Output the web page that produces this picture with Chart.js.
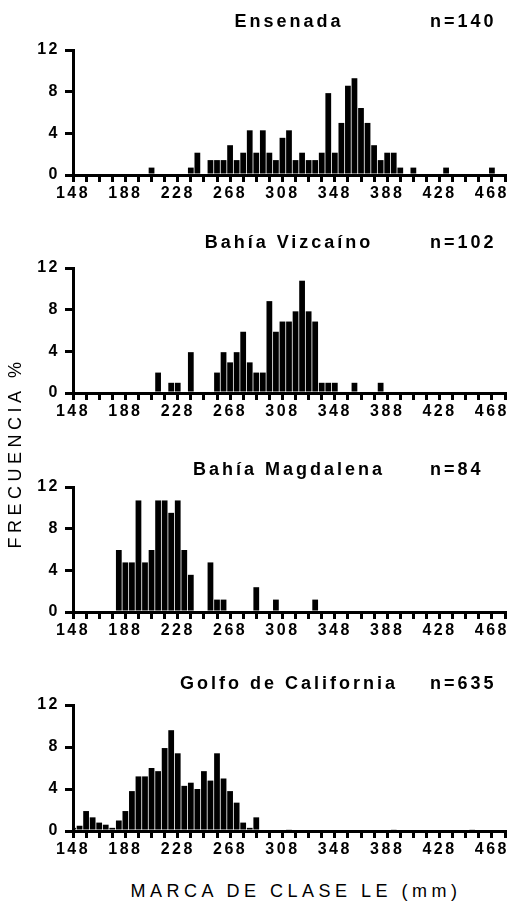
<!DOCTYPE html>
<html>
<head>
<meta charset="utf-8">
<script src="https://cdn.jsdelivr.net/npm/chart.js@4.4.0/dist/chart.umd.min.js"></script>
<style>
  body { margin: 0; background: #fff; }
  #wrap { position: relative; width: 509px; height: 905px; overflow: hidden; font-family: 'Liberation Sans', Arial, sans-serif; }
  canvas { position: absolute; left: 0; }
  .axtitle { position: absolute; color: #000; font-size: 18px; letter-spacing: 4.5px; white-space: nowrap; text-align: center; }
  #ytitle { left: -135px; top: 442px; width: 300px; height: 22px; line-height: 22px; transform: rotate(-90deg); }
  #xtitle { left: 96px; top: 880px; width: 400px; height: 22px; line-height: 22px; }
</style>
</head>
<body>
<div id="wrap">
  <canvas id="c0"></canvas>
  <canvas id="c1"></canvas>
  <canvas id="c2"></canvas>
  <canvas id="c3"></canvas>
  <div class="axtitle" id="ytitle">FRECUENCIA %</div>
  <div class="axtitle" id="xtitle">MARCA DE CLASE LE (mm)</div>
</div>
<script>
// class marks, mm (5 mm classes)
var classMarks = [148, 153, 158, 163, 168, 173, 178, 183, 188, 193, 198, 203, 208, 213, 218, 223, 228, 233, 238, 243,
                  248, 253, 258, 263, 268, 273, 278, 283, 288, 293, 298, 303, 308, 313, 318, 323, 328, 333, 338, 343,
                  348, 353, 358, 363, 368, 373, 378, 383, 388, 393, 398, 403, 408, 413, 418, 423, 428, 433, 438, 443,
                  448, 453, 458, 463, 468];

var xTickValues = [148, 158, 168, 178, 188, 198, 208, 218, 228, 238, 248, 258, 268, 278, 288, 298, 308, 318, 328, 338,
                   348, 358, 368, 378, 388, 398, 408, 418, 428, 438, 448, 458, 468, 478];
var xTickLabels = [148, 188, 228, 268, 308, 348, 388, 428, 468];
var yTickValues = [0, 2, 4, 6, 8, 10, 12];
var yTickLabels = [0, 4, 8, 12];

var siteNames = ['Ensenada', 'Bahía Vizcaíno', 'Bahía Magdalena', 'Golfo de California'];
var sampleSizes = [140, 102, 84, 635];

// frequency %, one value per class mark
var ensenada = [0, 0, 0, 0, 0, 0, 0, 0, 0, 0, 0, 0, 0.71, 0, 0, 0, 0, 0, 0.71, 2.14,
                0, 1.43, 1.43, 1.43, 2.86, 1.43, 2.14, 4.29, 2.14, 4.29, 2.14, 1.43, 3.57, 4.29, 1.43, 2.14, 1.43, 1.43, 2.14, 7.86,
                2.14, 5.0, 8.57, 9.29, 6.43, 5.0, 2.86, 1.43, 2.14, 2.14, 0.71, 0, 0.71, 0, 0, 0, 0, 0.71, 0, 0,
                0, 0, 0, 0, 0.71];
var vizcaino = [0, 0, 0, 0, 0, 0, 0, 0, 0, 0, 0, 0, 0, 1.96, 0, 0.98, 0.98, 0, 3.92, 0,
                0, 0, 1.96, 3.92, 2.94, 3.92, 5.88, 2.94, 1.96, 1.96, 8.82, 5.88, 6.86, 6.86, 7.84, 10.78, 7.84, 6.86, 0.98, 0.98,
                0.98, 0, 0, 0.98, 0, 0, 0, 0.98, 0, 0, 0, 0, 0, 0, 0, 0, 0, 0, 0, 0,
                0, 0, 0, 0, 0];
var magdalena = [0, 0, 0, 0, 0, 0, 0, 5.95, 4.76, 4.76, 10.71, 4.76, 5.95, 10.71, 10.71, 9.52, 10.71, 5.95, 3.57, 0,
                 0, 4.76, 1.19, 1.19, 0, 0, 0, 0, 2.38, 0, 0, 1.19, 0, 0, 0, 0, 0, 1.19, 0, 0,
                 0, 0, 0, 0, 0, 0, 0, 0, 0, 0, 0, 0, 0, 0, 0, 0, 0, 0, 0, 0,
                 0, 0, 0, 0, 0];
var golfo = [0.3, 0.5, 1.9, 1.3, 0.8, 0.6, 0.3, 1.0, 1.9, 3.8, 5.2, 5.2, 6.0, 5.7, 7.9, 9.6, 7.4, 4.3, 4.6, 4.0,
             5.7, 4.8, 7.4, 5.0, 3.8, 2.7, 0.8, 0.3, 1.3, 0, 0, 0, 0, 0.16, 0, 0, 0, 0, 0, 0,
             0, 0, 0, 0, 0, 0, 0, 0, 0, 0.16, 0, 0, 0, 0, 0, 0, 0, 0, 0, 0,
             0, 0.16, 0, 0, 0];

var panelValues = [ensenada, vizcaino, magdalena, golfo];

// layout of the four panels
var chartTops = [50, 268, 487, 705];
var plotHeights = [125, 125, 125, 126];
var titleOffsets = [28, 25, 17, 21];
var padTop = 40;
var xAxisHeight = 30;

Chart.defaults.font.family = "'Liberation Sans', Arial, sans-serif";
Chart.defaults.color = '#000';

var spacingPlugin = {
    id: 'spacing',
    beforeLayout: function (chart) { chart.ctx.letterSpacing = '2.5px'; },
    beforeDraw: function (chart) { chart.ctx.letterSpacing = '2.5px'; }
};

var panelTitle = {
    id: 'panelTitle',
    afterDraw: function (chart, args, opts) {
        var ctx = chart.ctx, a = chart.chartArea;
        var y = a.top - opts.offset;
        ctx.save();
        ctx.fillStyle = '#000';
        ctx.font = "bold 18px 'Liberation Sans', Arial, sans-serif";
        ctx.letterSpacing = '3px';
        ctx.textBaseline = 'middle';
        ctx.textAlign = 'center';
        ctx.fillText(opts.name, (a.left + a.right) / 2, y);
        ctx.textAlign = 'left';
        ctx.fillText('n=' + opts.n, 430, y);
        ctx.restore();
    }
};

function drawPanel(i) {
    var canvas = document.getElementById('c' + i);
    canvas.width = 509;
    canvas.height = padTop + plotHeights[i] + xAxisHeight;
    canvas.style.top = (chartTops[i] - padTop) + 'px';

    new Chart(canvas, {
        type: 'bar',
        data: {
            labels: classMarks,
            datasets: [{
                data: panelValues[i],
                backgroundColor: '#000',
                barPercentage: 0.88,
                categoryPercentage: 1,
                clip: 0
            }]
        },
        options: {
            responsive: false,
            animation: false,
            layout: { padding: { top: padTop, right: 4, left: 0, bottom: 0 } },
            plugins: {
                legend: { display: false },
                tooltip: { enabled: false },
                panelTitle: { name: siteNames[i], n: sampleSizes[i], offset: titleOffsets[i] }
            },
            scales: {
                x: {
                    type: 'linear',
                    min: 148,
                    max: 478,
                    offset: false,
                    afterBuildTicks: function (s) { s.ticks = xTickValues.map(function (v) { return { value: v }; }); },
                    afterFit: function (s) { s.height = xAxisHeight; },
                    ticks: {
                        autoSkip: false,
                        maxRotation: 0,
                        padding: 2,
                        font: { size: 16, weight: 'bold' },
                        callback: function (v) { return xTickLabels.indexOf(v) >= 0 ? String(v) : ''; }
                    },
                    grid: { drawOnChartArea: false, offset: false, tickLength: 7, lineWidth: 3, color: '#000' },
                    border: { display: true, width: 3, color: '#000' }
                },
                y: {
                    min: 0,
                    max: 12,
                    afterBuildTicks: function (s) { s.ticks = yTickValues.map(function (v) { return { value: v }; }); },
                    afterFit: function (s) { s.width = 73; },
                    ticks: {
                        padding: 5,
                        font: { size: 16, weight: 'bold' },
                        callback: function (v) { return yTickLabels.indexOf(v) >= 0 ? String(v) : ''; }
                    },
                    grid: { drawOnChartArea: false, tickLength: 8, lineWidth: 3, color: '#000' },
                    border: { display: true, width: 3, color: '#000' }
                }
            }
        },
        plugins: [spacingPlugin, panelTitle]
    });
}

for (var i = 0; i < 4; i++) drawPanel(i);
</script>
</body>
</html>
